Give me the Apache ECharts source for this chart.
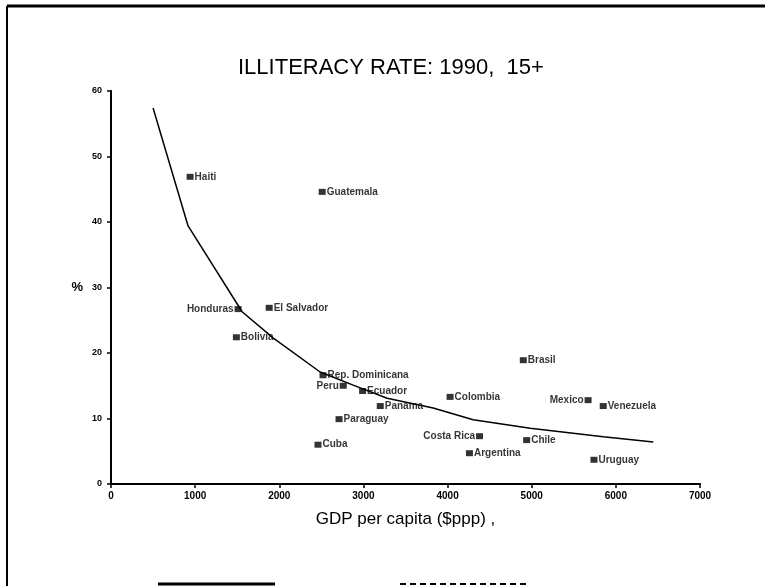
<!DOCTYPE html>
<html>
<head>
<meta charset="utf-8">
<script src="https://cdn.jsdelivr.net/npm/echarts@6/dist/echarts.min.js"></script>
<style>
html,body{margin:0;padding:0;background:#fff;}
#chart{width:770px;height:586px;}
</style>
</head>
<body>
<div id="chart"></div>
<script>
// ---- data ----
const countries = ['Haiti','Guatemala','Honduras','El Salvador','Bolivia','Rep. Dominicana','Peru','Ecuador','Panama','Paraguay','Cuba','Brasil','Colombia','Costa Rica','Argentina','Chile','Mexico','Venezuela','Uruguay'];
const gdpPerCapita = [940, 2510, 1510, 1880, 1490, 2520, 2760, 2990, 3200, 2710, 2460, 4900, 4030, 4380, 4260, 4940, 5670, 5850, 5740];
const illiteracy = [46.9, 44.6, 26.7, 26.9, 22.4, 16.6, 15.0, 14.2, 11.9, 9.9, 6.0, 18.9, 13.3, 7.3, 4.7, 6.7, 12.8, 11.9, 3.7];
const fitGdp = [500, 916, 1558, 1926, 2485, 2878, 3282, 3829, 4304, 4982, 5850, 6445];
const fitRate = [57.4, 39.4, 26.3, 22.3, 17.1, 15.1, 13.1, 11.6, 9.8, 8.5, 7.2, 6.4];
const xTicks = [0, 1000, 2000, 3000, 4000, 5000, 6000, 7000];
const yTicks = [0, 10, 20, 30, 40, 50, 60];

// label placement (style)
const leftLabeled = ['Honduras', 'Peru', 'Costa Rica', 'Mexico'];

const points = countries.map((c, i) => ({
  name: c,
  value: [gdpPerCapita[i], illiteracy[i]],
  label: { position: leftLabeled.includes(c) ? 'left' : 'right' }
}));
const fitLine = fitGdp.map((x, i) => [x, fitRate[i]]);

const chart = echarts.init(document.getElementById('chart'), null, {renderer: 'canvas'});
const axisFont = 'Liberation Sans';
chart.setOption({
  backgroundColor: '#fff',
  animation: false,
  title: {
    text: 'ILLITERACY RATE: 1990,  15+',
    left: 238, top: 57, padding: 0,
    textStyle: { fontFamily: axisFont, fontSize: 22, fontWeight: 'normal', color: '#000' }
  },
  grid: { left: 111, right: 70, top: 91, bottom: 102, containLabel: false },
  xAxis: [{
    type: 'value', min: xTicks[0], max: xTicks[xTicks.length - 1], interval: 1000,
    name: 'GDP per capita ($ppp) ,', nameLocation: 'middle', nameGap: 27,
    nameTextStyle: { fontFamily: axisFont, fontSize: 17, color: '#000' },
    axisLine: { show: true, onZero: false, lineStyle: { color: '#000', width: 2 } },
    axisTick: { show: true, inside: false, length: 4, lineStyle: { color: '#000', width: 1.5 } },
    axisLabel: { margin: 7, fontFamily: axisFont, fontSize: 10, fontWeight: 'bold', color: '#000',
      formatter: v => String(v) },
    splitLine: { show: false }
  }, {
    type: 'value', position: 'top', min: xTicks[0], max: xTicks[xTicks.length - 1],
    axisLine: { show: true, lineStyle: { color: '#000', width: 2 } },
    axisTick: { show: false }, axisLabel: { show: false }, splitLine: { show: false }
  }],
  yAxis: [{
    type: 'value', min: yTicks[0], max: yTicks[yTicks.length - 1], interval: 10,
    name: '%', nameLocation: 'middle', nameGap: 28, nameRotate: 0,
    nameTextStyle: { fontFamily: axisFont, fontSize: 13, fontWeight: 'bold', color: '#000' },
    axisLine: { show: true, onZero: false, lineStyle: { color: '#000', width: 2 } },
    axisTick: { show: true, inside: false, length: 4, lineStyle: { color: '#000', width: 1.5 } },
    axisLabel: { margin: 9, fontFamily: axisFont, fontSize: 9, fontWeight: 'bold', color: '#000',
      formatter: v => String(v) },
    splitLine: { show: false }
  }, {
    type: 'value', position: 'right', min: yTicks[0], max: yTicks[yTicks.length - 1],
    axisLine: { show: true, lineStyle: { color: '#000', width: 1 } },
    axisTick: { show: false }, axisLabel: { show: false }, splitLine: { show: false }
  }],
  series: [{
    type: 'line', data: fitLine, symbol: 'none', smooth: false,
    lineStyle: { color: '#000', width: 1.5 }, z: 2
  }, {
    type: 'scatter', data: points, symbol: 'rect', symbolSize: [7, 6],
    itemStyle: { color: '#000' },
    label: {
      show: true, formatter: '{b}', distance: 1,
      fontFamily: axisFont, fontSize: 10, fontWeight: 'bold', color: '#000'
    }, z: 3
  }],
  graphic: [
    { type: 'line', shape: { x1: 7, y1: 6, x2: 765, y2: 6 }, style: { stroke: '#000', lineWidth: 3 } },
    { type: 'line', shape: { x1: 7, y1: 6, x2: 7, y2: 586 }, style: { stroke: '#000', lineWidth: 2 } },
    { type: 'line', shape: { x1: 158, y1: 584, x2: 275, y2: 584 }, style: { stroke: '#000', lineWidth: 3 } },
    { type: 'line', shape: { x1: 400, y1: 584, x2: 527, y2: 584 }, style: { stroke: '#000', lineWidth: 2, lineDash: [6, 4] } }
  ]
});
</script>
</body>
</html>
